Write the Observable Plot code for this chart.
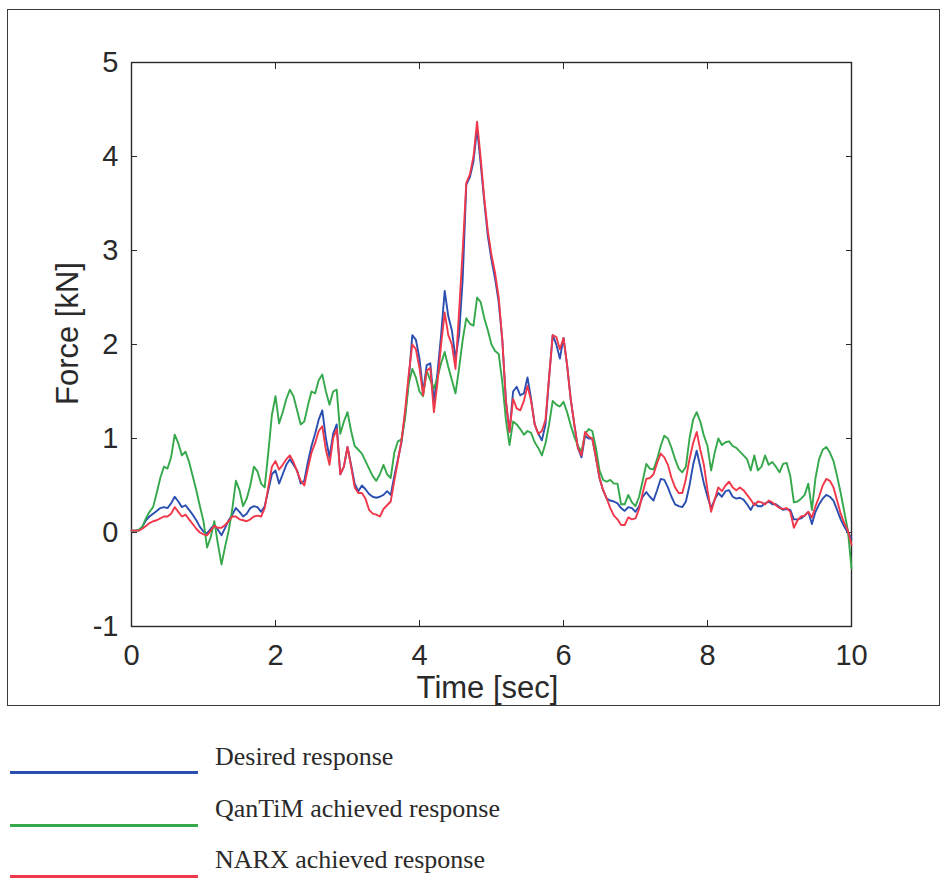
<!DOCTYPE html>
<html>
<head>
<meta charset="utf-8">
<script src="https://cdn.jsdelivr.net/npm/d3@7"></script>
<script src="https://cdn.jsdelivr.net/npm/@observablehq/plot@0.6"></script>
<style>
  html, body { margin: 0; padding: 0; background: #fff; }
  #page { position: relative; width: 946px; height: 878px; overflow: hidden; }
  #chart { position: absolute; left: 0; top: 0; }
  #box { position: absolute; left: 7px; top: 9px; width: 933px; height: 697px;
         border: 1.5px solid #3a3a3a; box-sizing: border-box; pointer-events: none; }
  .key-line { position: absolute; left: 10px; width: 188px; height: 3px; }
  .key-text { position: absolute; left: 215px; font-family: "Liberation Serif", "Times New Roman", serif;
              font-size: 26px; color: #2a2a2a; white-space: nowrap; line-height: 1; }
</style>
</head>
<body>
<div id="page">
  <div id="chart"></div>
  <div id="box"></div>
</div>
<script>
// Sample times (s), 0 to 10 in 0.05 s steps
const time = d3.range(201).map(i => +(i * 0.05).toFixed(2));

// Desired force response (kN)
const desired = [
  0.02,0.02,0.02,0.06,0.13,0.17,0.20,0.23,0.26,0.27,
  0.26,0.31,0.38,0.33,0.27,0.29,0.24,0.19,0.13,0.06,
  0.01,-0.01,0.04,0.08,0.03,-0.03,0.05,0.13,0.19,0.26,
  0.22,0.17,0.20,0.26,0.28,0.27,0.22,0.28,0.45,0.62,
  0.66,0.52,0.62,0.72,0.78,0.72,0.66,0.52,0.55,0.75,
  0.92,1.05,1.20,1.30,1.00,0.80,1.05,1.15,0.62,0.70,
  0.91,0.72,0.52,0.44,0.50,0.46,0.41,0.38,0.37,0.38,
  0.40,0.44,0.40,0.60,0.78,0.96,1.25,1.62,2.10,2.05,
  1.85,1.49,1.78,1.80,1.39,1.70,2.10,2.57,2.30,2.15,
  1.85,2.10,2.70,3.70,3.78,3.95,4.30,3.92,3.52,3.15,
  2.90,2.70,2.45,2.05,1.40,1.07,1.50,1.55,1.46,1.48,
  1.65,1.42,1.15,1.05,0.98,1.15,1.65,2.10,2.00,1.85,
  2.07,1.78,1.42,1.15,0.90,0.80,1.03,1.00,1.00,0.80,
  0.58,0.45,0.36,0.34,0.33,0.31,0.26,0.23,0.27,0.26,
  0.22,0.28,0.38,0.43,0.38,0.34,0.45,0.57,0.56,0.48,
  0.38,0.30,0.28,0.27,0.33,0.50,0.72,0.87,0.70,0.52,
  0.38,0.26,0.35,0.42,0.38,0.44,0.45,0.38,0.36,0.37,
  0.35,0.30,0.24,0.31,0.28,0.28,0.31,0.33,0.30,0.30,
  0.27,0.24,0.25,0.24,0.14,0.14,0.15,0.18,0.22,0.09,
  0.22,0.30,0.36,0.40,0.38,0.34,0.24,0.14,0.06,0.00,
  -0.06
];

// QanTiM achieved force response (kN)
const qantim = [
  0.02,0.02,0.03,0.06,0.15,0.22,0.27,0.42,0.58,0.70,
  0.68,0.80,1.04,0.95,0.82,0.86,0.75,0.60,0.45,0.28,
  0.12,-0.16,-0.05,0.12,-0.12,-0.34,-0.15,0.02,0.25,0.55,
  0.45,0.28,0.36,0.50,0.70,0.65,0.52,0.48,0.85,1.25,
  1.45,1.16,1.28,1.42,1.52,1.45,1.30,1.15,1.18,1.35,
  1.50,1.48,1.62,1.68,1.50,1.36,1.50,1.52,1.05,1.18,
  1.28,1.08,0.92,0.88,0.84,0.76,0.68,0.60,0.55,0.62,
  0.72,0.62,0.58,0.85,0.97,0.99,1.22,1.58,1.74,1.65,
  1.50,1.45,1.72,1.62,1.53,1.65,1.80,1.92,1.76,1.62,
  1.48,1.75,2.05,2.28,2.22,2.20,2.50,2.45,2.28,2.15,
  2.00,1.93,1.90,1.60,1.20,0.93,1.18,1.15,1.10,1.04,
  1.08,1.06,0.96,0.90,0.82,0.95,1.15,1.40,1.36,1.34,
  1.39,1.28,1.14,1.02,0.92,0.86,1.05,1.10,1.08,0.90,
  0.66,0.56,0.54,0.56,0.52,0.52,0.30,0.30,0.40,0.32,
  0.28,0.38,0.55,0.73,0.68,0.67,0.78,0.92,1.03,1.00,
  0.90,0.78,0.68,0.64,0.70,1.00,1.20,1.28,1.18,1.03,
  0.92,0.66,0.85,1.00,0.93,0.96,0.97,0.92,0.90,0.86,
  0.82,0.78,0.66,0.82,0.66,0.70,0.82,0.72,0.75,0.70,
  0.64,0.73,0.74,0.60,0.32,0.33,0.36,0.40,0.52,0.24,
  0.58,0.78,0.88,0.91,0.85,0.76,0.60,0.42,0.22,0.02,
  -0.38
];

// NARX achieved force response (kN)
const narx = [
  0.02,0.02,0.02,0.04,0.07,0.10,0.12,0.13,0.15,0.17,
  0.17,0.20,0.27,0.22,0.17,0.19,0.14,0.09,0.04,0.00,
  -0.02,-0.03,0.02,0.07,0.05,0.05,0.08,0.12,0.17,0.17,
  0.14,0.13,0.12,0.14,0.17,0.18,0.17,0.26,0.48,0.70,
  0.76,0.67,0.72,0.78,0.82,0.75,0.65,0.55,0.50,0.68,
  0.85,0.95,1.08,1.13,0.88,0.72,1.00,1.10,0.62,0.70,
  0.91,0.70,0.48,0.42,0.42,0.36,0.24,0.20,0.19,0.17,
  0.25,0.29,0.33,0.55,0.76,0.98,1.30,1.68,2.00,1.95,
  1.75,1.46,1.72,1.75,1.28,1.60,2.00,2.34,2.10,2.00,
  1.74,2.35,3.00,3.72,3.81,4.00,4.37,3.98,3.55,3.20,
  2.95,2.76,2.50,2.05,1.40,1.07,1.42,1.32,1.30,1.40,
  1.56,1.40,1.15,1.05,1.08,1.20,1.65,2.10,2.08,1.95,
  2.07,1.78,1.42,1.15,0.90,0.82,1.07,1.02,1.00,0.80,
  0.58,0.45,0.36,0.26,0.18,0.14,0.08,0.08,0.16,0.14,
  0.15,0.25,0.42,0.57,0.58,0.62,0.74,0.84,0.80,0.72,
  0.58,0.48,0.42,0.42,0.57,0.78,0.95,1.07,0.88,0.72,
  0.45,0.22,0.35,0.48,0.44,0.50,0.54,0.48,0.45,0.48,
  0.45,0.40,0.35,0.29,0.33,0.32,0.30,0.34,0.32,0.29,
  0.26,0.25,0.26,0.22,0.05,0.13,0.17,0.18,0.22,0.16,
  0.28,0.38,0.50,0.57,0.55,0.48,0.34,0.20,0.10,0.02,
  -0.13
];

const seriesNames = ["Desired response", "QanTiM achieved response", "NARX achieved response"];
const seriesColors = ["#2b4fb0", "#35a84c", "#f0384a"];
const seriesValues = [desired, qantim, narx];

const xTicks = [0, 2, 4, 6, 8, 10];
const yTicks = [-1, 0, 1, 2, 3, 4, 5];

const rows = seriesValues.flatMap((vals, s) =>
  vals.map((v, i) => ({series: seriesNames[s], t: time[i], force: v})));

const axisFont = {fontFamily: "'Liberation Sans', Arial, sans-serif"};
const blank = () => "";
const plain = d => String(d);

const chart = Plot.plot({
  width: 946,
  height: 710,
  marginLeft: 131,
  marginRight: 95,
  marginTop: 62,
  marginBottom: 84,
  style: {background: "transparent", color: "#2a2a2a", ...axisFont},
  x: {domain: [0, 10]},
  y: {domain: [-1, 5]},
  color: {domain: seriesNames, range: seriesColors},
  marks: [
    // inward ticks on all four sides
    Plot.axisX(xTicks, {anchor: "bottom", tickSize: -6, tickPadding: 24, fontSize: 29, tickFormat: plain, label: null, stroke: "#2a2a2a"}),
    Plot.axisX(xTicks, {anchor: "top", tickSize: -6, tickFormat: blank, label: null, stroke: "#2a2a2a"}),
    Plot.axisY(yTicks, {anchor: "left", tickSize: -6, tickPadding: 19, fontSize: 29, tickFormat: plain, label: null, stroke: "#2a2a2a"}),
    Plot.axisY(yTicks, {anchor: "right", tickSize: -6, tickFormat: blank, label: null, stroke: "#2a2a2a"}),
    Plot.frame({stroke: "#2a2a2a", strokeWidth: 1.4}),
    Plot.lineY(rows, {x: "t", y: "force", z: "series", stroke: "series", strokeWidth: 1.9}),
    Plot.text(["Time [sec]"], {frameAnchor: "bottom", dx: -4, dy: 71, fontSize: 31, fill: "#2a2a2a"}),
    Plot.text(["Force [kN]"], {frameAnchor: "left", textAnchor: "middle", dx: -63, dy: -11, rotate: -90, fontSize: 31, fill: "#2a2a2a"})
  ]
});
document.getElementById("chart").appendChild(chart);

// legend below the bordered chart
const page = document.getElementById("page");
const keyLineTop = [771, 824, 875];
const keyTextTop = [744, 796, 847];
seriesNames.forEach((name, i) => {
  const line = document.createElement("div");
  line.className = "key-line";
  line.style.top = keyLineTop[i] + "px";
  line.style.background = seriesColors[i];
  page.appendChild(line);
  const txt = document.createElement("div");
  txt.className = "key-text";
  txt.style.top = keyTextTop[i] + "px";
  txt.textContent = name;
  page.appendChild(txt);
});
</script>
</body>
</html>
